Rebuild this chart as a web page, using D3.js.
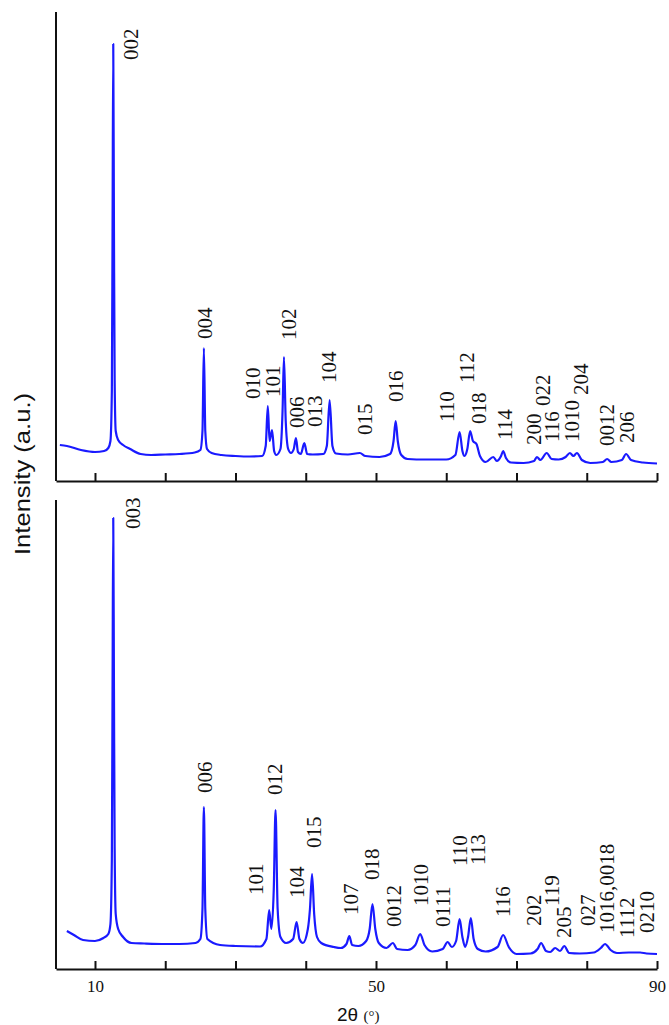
<!DOCTYPE html>
<html>
<head>
<meta charset="utf-8">
<script src="https://cdn.jsdelivr.net/npm/d3@7"></script>
<style>
  body { margin: 0; background: #fff; }
  svg { display: block; }
  .trace { fill: none; stroke: #1a1aff; stroke-width: 2.2; stroke-linejoin: round; }
  .hkl { font-family: "Liberation Serif", "Times New Roman", serif; font-size: 21px; fill: #111; }
  .axis path, .axis line { stroke: #111; stroke-width: 2; }
  .axis text { font-family: "Liberation Serif", "Times New Roman", serif; font-size: 17px; fill: #111; }
</style>
</head>
<body>
<div id="chart"></div>
<script>
// 2θ (deg), intensity (a.u.) — upper pattern
const topPattern = [
  [5.0, 36], [6.0, 35], [8.0, 31], [10.0, 29], [11.3, 30], [11.9, 33], [12.2, 40], [12.4, 90],
  [12.5, 250], [12.6, 437], [12.7, 250], [12.8, 100], [12.95, 50], [13.3, 41], [14.0, 36],
  [15.0, 32], [16.5, 27], [18.0, 26], [20.0, 26.5], [22.0, 27], [24.2, 28.5], [25.0, 31],
  [25.3, 50], [25.5, 133], [25.7, 50], [25.95, 32], [26.6, 28], [28.0, 26], [30.0, 25],
  [32.0, 24.5], [33.8, 25], [34.3, 35], [34.6, 75], [34.85, 40], [35.2, 51], [35.5, 30],
  [35.8, 26], [36.4, 32], [36.7, 70], [36.9, 124], [37.15, 60], [37.5, 32], [37.9, 28],
  [38.3, 32], [38.6, 43], [38.9, 29], [39.3, 27], [39.8, 38], [40.2, 27], [41.0, 26.5],
  [42.5, 27], [43.0, 35], [43.4, 81], [43.8, 35], [44.3, 27.5], [46.0, 26.5], [47.7, 28],
  [48.5, 25], [50.5, 24], [52.0, 27], [52.5, 40], [52.8, 60], [53.1, 40], [53.6, 26],
  [54.5, 22], [57.0, 21.5], [60.0, 21.5], [61.3, 26], [61.9, 49], [62.3, 30], [62.6, 25],
  [63.0, 32], [63.4, 50], [63.8, 40], [64.3, 37], [64.8, 25], [65.6, 19], [66.7, 24],
  [67.2, 20], [67.8, 25], [68.1, 30], [68.5, 23], [69.2, 18.5], [71.0, 18], [72.5, 20],
  [72.9, 24], [73.4, 21], [74.3, 28], [75.0, 22], [76.0, 21.5], [77.0, 24], [77.6, 28],
  [78.1, 25], [78.6, 28], [79.3, 21], [80.5, 18], [82.3, 19], [82.9, 22], [83.5, 19],
  [85.0, 21], [85.6, 27], [86.3, 21], [88.0, 18.5], [90.0, 17.5]
];

// lower pattern
const bottomPattern = [
  [6.0, 38], [7.0, 34], [8.3, 29], [10.0, 28], [11.2, 31], [11.9, 35], [12.2, 45], [12.4, 110],
  [12.5, 280], [12.6, 451], [12.7, 280], [12.8, 120], [12.95, 55], [13.3, 40], [14.0, 32],
  [15.2, 26], [17.0, 25.5], [20.0, 25], [22.0, 25], [24.3, 26], [25.0, 30], [25.3, 60],
  [25.5, 162], [25.7, 60], [26.0, 30], [27.8, 24], [30.0, 23], [33.5, 22.5], [34.4, 30],
  [34.8, 59], [35.1, 40], [35.45, 80], [35.7, 159], [36.0, 60], [36.4, 32], [37.2, 26],
  [38.2, 30], [38.7, 47], [39.1, 30], [39.6, 26], [40.3, 40], [40.6, 60], [40.9, 95],
  [41.2, 55], [41.6, 32], [42.2, 26], [44.0, 22], [45.0, 21], [45.8, 25], [46.2, 33],
  [46.6, 24], [47.5, 23], [48.6, 28], [49.1, 40], [49.5, 65], [49.9, 40], [50.4, 26],
  [51.5, 21], [52.4, 26], [53.0, 20], [54.5, 19], [55.6, 24], [56.3, 35], [56.9, 24],
  [58.0, 17.5], [59.5, 20], [60.2, 27], [60.8, 22], [61.4, 28], [61.9, 50], [62.3, 32],
  [62.7, 22], [63.1, 32], [63.5, 51], [63.9, 30], [64.5, 20], [65.6, 17.5], [67.3, 22],
  [68.1, 34], [68.9, 22], [70.0, 15], [72.0, 15.5], [73.0, 20], [73.5, 26], [74.2, 18],
  [74.8, 17], [75.5, 21], [76.2, 18], [76.8, 23], [77.5, 16], [79.0, 15.5], [81.0, 16.5],
  [82.0, 21], [82.6, 25], [83.4, 19], [84.3, 16], [86.0, 16.5], [87.6, 16.5], [88.5, 15.5],
  [90.0, 15]
];

// reflection labels: [hkl, 2θ of label, intensity where text starts]
const topLabels = [
  ["002", 15.13, 421], ["004", 25.57, 142], ["010", 32.48, 82], ["101", 35.35, 84],
  ["102", 37.59, 141], ["006", 38.77, 53], ["013", 41.29, 54], ["104", 43.33, 98],
  ["015", 48.46, 46], ["016", 52.80, 79], ["110", 60.13, 59], ["112", 62.98, 98],
  ["018", 64.69, 57], ["114", 68.35, 41], ["200", 72.53, 36], ["022", 73.81, 75],
  ["116", 75.09, 39], ["1010", 77.94, 39], ["204", 79.15, 86], ["0012", 82.85, 35],
  ["206", 85.77, 38]
];

const bottomLabels = [
  ["003", 15.34, 440], ["006", 25.67, 176], ["101", 32.93, 74], ["012", 35.54, 174],
  ["104", 38.77, 71], ["015", 41.19, 121], ["107", 46.39, 54], ["018", 49.45, 89],
  ["0012", 52.59, 42], ["1010", 56.36, 63], ["0111", 59.47, 42], ["110", 61.89, 103],
  ["113", 64.55, 104], ["116", 68.11, 52], ["202", 72.43, 43], ["119", 75.05, 63],
  ["205", 76.70, 31], ["027", 80.18, 43], ["1016,0018", 82.92, 36], ["1112", 85.77, 31],
  ["0210", 88.62, 36]
];

const xTicks = [10, 20, 30, 40, 50, 60, 70, 80, 90];
const xTickLabels = [10, 50, 90];

const width = 669;
const height = 1025;
const left = 56;
const right = 657;
const labelSize = 21;

const svg = d3.select("#chart")
  .append("svg")
  .attr("width", width)
  .attr("height", height);

const x = d3.scaleLinear().domain([4.45, 90]).range([left, right]);

const line = d3.line().curve(d3.curveMonotoneX);

const panels = [
  {data: topPattern, labels: topLabels, top: 12, bottom: 481, tickText: false},
  {data: bottomPattern, labels: bottomLabels, top: 500, bottom: 969, tickText: true}
];

panels.forEach(p => {
  const y = d3.scaleLinear().domain([0, 469]).range([p.bottom, p.top]);
  const g = svg.append("g");

  g.append("path")
    .attr("class", "trace")
    .attr("d", line.x(d => x(d[0])).y(d => y(d[1]))(p.data));

  // left axis line (no ticks)
  g.append("line")
    .attr("x1", left).attr("x2", left)
    .attr("y1", p.top).attr("y2", p.bottom)
    .attr("stroke", "#111").attr("stroke-width", 2);

  const axis = d3.axisBottom(x)
    .tickValues(xTicks)
    .tickSizeInner(-8)
    .tickSizeOuter(0)
    .tickFormat(d => p.tickText && xTickLabels.includes(d) ? d : "");

  const ax = g.append("g")
    .attr("class", "axis")
    .attr("transform", `translate(0,${p.bottom})`)
    .call(axis);
  ax.selectAll(".tick text").attr("y", 23).attr("dy", 0);

  g.selectAll("text.hkl").data(p.labels).enter()
    .append("text")
    .attr("class", "hkl")
    .attr("transform", d => `translate(${x(d[1]) + labelSize * 0.34},${y(d[2])}) rotate(-90)`)
    .text(d => d[0]);
});

// axis titles
svg.append("text")
  .attr("transform", "translate(30,474) rotate(-90)")
  .attr("text-anchor", "middle")
  .attr("textLength", 162)
  .attr("lengthAdjust", "spacingAndGlyphs")
  .style("font-family", "'Liberation Sans', Arial, sans-serif")
  .style("font-size", "22px")
  .style("fill", "#111")
  .text("Intensity (a.u.)");

const xTitle = svg.append("text")
  .attr("x", 337)
  .attr("y", 1021)
  .style("fill", "#111");
xTitle.append("tspan")
  .style("font-family", "'Liberation Sans', Arial, sans-serif")
  .style("font-size", "19px")
  .text("2θ ");
xTitle.append("tspan")
  .style("font-family", "'Liberation Serif', 'Times New Roman', serif")
  .style("font-size", "15px")
  .text("(°)");
</script>
</body>
</html>
